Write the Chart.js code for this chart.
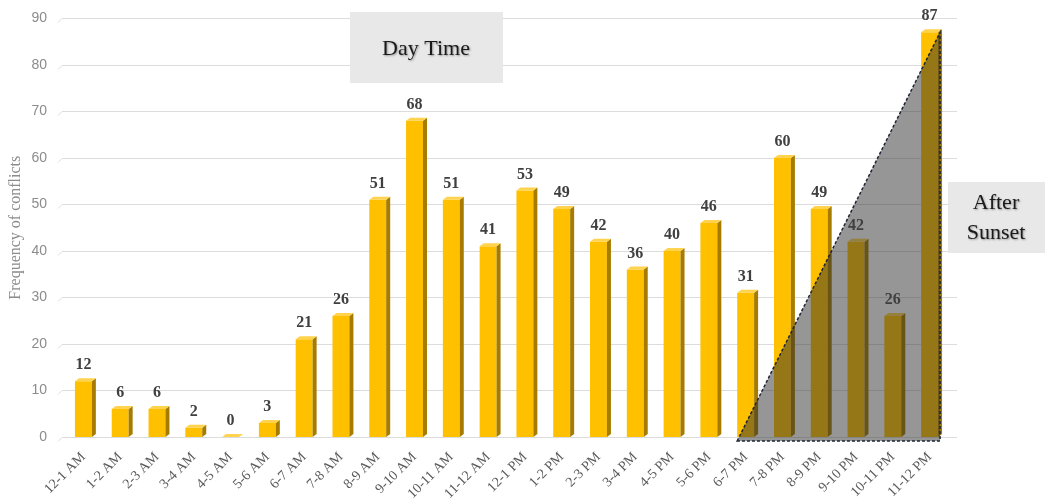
<!DOCTYPE html>
<html>
<head>
<meta charset="utf-8">
<script src="https://cdn.jsdelivr.net/npm/chart.js@4.4.1/dist/chart.umd.min.js"></script>
<style>
  html, body { margin: 0; padding: 0; background: #fff; }
  #wrap { width: 1045px; height: 504px; }
</style>
</head>
<body>
<div id="wrap"><canvas id="conflictChart" width="1045" height="504"></canvas></div>
<script>
// Daten: Konflikte pro Stunde
const hours = ["12-1 AM", "1-2 AM", "2-3 AM", "3-4 AM", "4-5 AM", "5-6 AM", "6-7 AM", "7-8 AM",
    "8-9 AM", "9-10 AM", "10-11 AM", "11-12 AM", "12-1 PM", "1-2 PM", "2-3 PM", "3-4 PM",
    "4-5 PM", "5-6 PM", "6-7 PM", "7-8 PM", "8-9 PM", "9-10 PM", "10-11 PM", "11-12 PM"];
const conflicts = [12, 6, 6, 2, 0, 3, 21, 26, 51, 68, 51, 41, 53, 49, 42, 36, 40, 46, 31, 60, 49, 42, 26, 87];
const yMax = 90;
const yStep = 10;

// Markierung "After Sunset" (Dreieck)
const sunsetFrom = "6-7 PM";
const sunsetTo = "11-12 PM";
const sunsetPeak = 87;

const dayLabel = ["Day Time"];
const nightLabel = ["After", "Sunset"];

const serif = "'Liberation Serif', 'Times New Roman', serif";

// Zeichnet Gitter, 3D-Seiten, Dreieck, Werte und Boxen.
const bars3d = {
    id: "bars3d",
    beforeDatasetsDraw(chart) {
        const ctx = chart.ctx;
        const area = chart.chartArea;
        const yScale = chart.scales.y;
        ctx.save();
        ctx.strokeStyle = "#dcdcdc";
        ctx.lineWidth = 1;
        yScale.ticks.forEach(t => {
            const py = Math.round(yScale.getPixelForValue(t.value)) + 0.5;
            ctx.beginPath();
            ctx.moveTo(area.left - 7, py + 4);
            ctx.lineTo(area.left - 3, py);
            ctx.lineTo(area.right + 9, py);
            ctx.stroke();
        });
        ctx.restore();
    },
    afterDatasetsDraw(chart) {
        const ctx = chart.ctx;
        const meta = chart.getDatasetMeta(0);
        const dx = 4, dy = 3;
        ctx.save();
        meta.data.forEach(bar => {
            const p = bar.getProps(["x", "y", "base", "width"], true);
            const l = p.x - p.width / 2, r = p.x + p.width / 2;
            ctx.fillStyle = "#a57b00";
            ctx.beginPath();
            ctx.moveTo(r, p.y);
            ctx.lineTo(r + dx, p.y - dy);
            ctx.lineTo(r + dx, p.base - dy);
            ctx.lineTo(r, p.base);
            ctx.closePath();
            ctx.fill();
            ctx.fillStyle = "#ffd34d";
            ctx.beginPath();
            ctx.moveTo(l, p.y);
            ctx.lineTo(l + dx, p.y - dy);
            ctx.lineTo(r + dx, p.y - dy);
            ctx.lineTo(r, p.y);
            ctx.closePath();
            ctx.fill();
        });

        // Dreieck
        const xScale = chart.scales.x, yScale = chart.scales.y;
        const w = meta.data[0].width;
        const x0 = xScale.getPixelForValue(hours.indexOf(sunsetFrom)) - w / 2;
        const x1 = xScale.getPixelForValue(hours.indexOf(sunsetTo)) + w / 2 + 2;
        const yb = yScale.getPixelForValue(0) + 4;
        const yt = yScale.getPixelForValue(sunsetPeak);
        ctx.fillStyle = "rgba(45,45,45,0.5)";
        ctx.beginPath();
        ctx.moveTo(x0, yb);
        ctx.lineTo(x1, yt);
        ctx.lineTo(x1, yb);
        ctx.closePath();
        ctx.fill();
        ctx.setLineDash([3, 2]);
        ctx.lineWidth = 1.5;
        ctx.strokeStyle = "#1e2436";
        ctx.stroke();
        ctx.setLineDash([]);

        // Werte
        ctx.fillStyle = "#404040";
        ctx.font = "bold 16px " + serif;
        ctx.textAlign = "center";
        ctx.textBaseline = "bottom";
        meta.data.forEach((bar, i) => {
            ctx.fillText(String(conflicts[i]), bar.x, bar.y - 8);
        });
        ctx.restore();
    },
    afterDraw(chart) {
        const ctx = chart.ctx;
        ctx.save();
        ctx.fillStyle = "#e8e8e8";
        ctx.fillRect(350, 12, 153, 71);
        ctx.fillRect(948, 182, 97, 71);
        ctx.font = "22px " + serif;
        ctx.textAlign = "center";
        ctx.textBaseline = "middle";
        ctx.shadowColor = "rgba(0,0,0,0.35)";
        ctx.shadowBlur = 2;
        ctx.shadowOffsetX = 1;
        ctx.shadowOffsetY = 1;
        ctx.fillStyle = "#1a1a1a";
        ctx.fillText(dayLabel[0], 426, 49);
        ctx.fillText(nightLabel[0], 996, 203);
        ctx.fillText(nightLabel[1], 996, 233);
        ctx.restore();
    }
};

const ctx = document.getElementById("conflictChart");
new Chart(ctx, {
    type: "bar",
    data: {
        labels: hours,
        datasets: [{
            data: conflicts,
            backgroundColor: "#ffc000",
            borderWidth: 0,
            barPercentage: 0.46,
            categoryPercentage: 1.0,
        }],
    },
    options: {
        responsive: false,
        animation: false,
        layout: {
            padding: { left: 0, right: 97, top: 9, bottom: 0 }
        },
        plugins: {
            legend: { display: false },
            tooltip: { enabled: false },
        },
        scales: {
            x: {
                grid: { display: false },
                border: { display: false },
                ticks: {
                    maxRotation: 45,
                    minRotation: 45,
                    autoSkip: false,
                    color: "#5a5a5a",
                    font: { family: serif, size: 14 },
                    padding: 4,
                },
                afterFit(scale) { scale.height = 67; },
            },
            y: {
                min: 0,
                max: yMax,
                grid: { display: false },
                border: { display: false },
                ticks: {
                    stepSize: yStep,
                    color: "#8c8c8c",
                    font: { family: "'Liberation Sans', Arial, sans-serif", size: 14 },
                    padding: 10,
                },
                title: {
                    display: true,
                    text: "Frequency of conflicts",
                    color: "#8c8c8c",
                    font: { family: serif, size: 16 },
                    padding: { top: 6, bottom: 0 },
                },
                afterFit(scale) { scale.width = 65; },
            },
        },
    },
    plugins: [bars3d],
});
</script>
</body>
</html>
